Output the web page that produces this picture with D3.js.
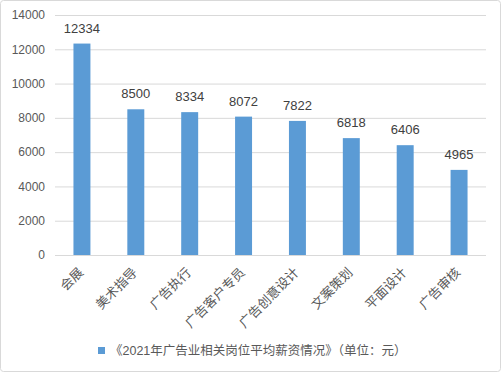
<!DOCTYPE html>
<html>
<head>
<meta charset="utf-8">
<script src="https://cdn.jsdelivr.net/npm/d3@7"></script>
<style>
  html, body { margin: 0; padding: 0; background: #fff; }
  svg { display: block; }
  text { font-family: "Liberation Sans", "Noto Sans CJK SC", sans-serif; }
</style>
</head>
<body>
<script>
const width = 501;
const height = 372;

const categories = ['会展', '美术指导', '广告执行', '广告客户专员', '广告创意设计', '文案策划', '平面设计', '广告审核'];
const salaries = [12334, 8500, 8334, 8072, 7822, 6818, 6406, 4965];
const yTicks = [0, 2000, 4000, 6000, 8000, 10000, 12000, 14000];
const seriesName = '《2021年广告业相关岗位平均薪资情况》（单位：元）';

const margin = {top: 15, right: 15, bottom: 117, left: 55};

const svg = d3.select("body")
    .append("svg")
    .attr("width", width)
    .attr("height", height);

// outer frame
svg.append("rect")
    .attr("x", 0.5).attr("y", 0.5)
    .attr("width", width - 1).attr("height", height - 1)
    .attr("rx", 3)
    .style("fill", "#fff")
    .style("stroke", "#d9d9d9");

const x = d3.scaleBand()
    .domain(categories)
    .range([margin.left, width - margin.right])
    .paddingInner(0.685)
    .paddingOuter(0.3425);

const y = d3.scaleLinear()
    .domain([0, 14000])
    .range([height - margin.bottom, margin.top]);

// gridlines
svg.append("g")
    .selectAll("line")
    .data(yTicks)
    .enter()
    .append("line")
    .attr("x1", margin.left)
    .attr("x2", width - margin.right)
    .attr("y1", d => y(d) + 0.5)
    .attr("y2", d => y(d) + 0.5)
    .style("stroke", "#d9d9d9")
    .style("stroke-width", 1);

// y axis labels
const yAxis = d3.axisLeft(y)
    .tickValues(yTicks)
    .tickSize(0)
    .tickPadding(10)
    .tickFormat(d3.format("d"));

svg.append("g")
    .attr("transform", `translate(${margin.left},0)`)
    .call(yAxis)
    .call(g => g.select(".domain").remove())
    .selectAll("text")
    .style("font-size", "12px")
    .style("fill", "#595959");

// bars
svg.append("g")
    .selectAll("rect")
    .data(salaries)
    .enter()
    .append("rect")
    .attr("x", (d, i) => x(categories[i]))
    .attr("y", d => y(d))
    .attr("width", x.bandwidth())
    .attr("height", d => y(0) - y(d))
    .style("fill", "#5b9bd5");

// value labels
svg.append("g")
    .selectAll("text")
    .data(salaries)
    .enter()
    .append("text")
    .attr("x", (d, i) => x(categories[i]) + x.bandwidth() / 2)
    .attr("y", d => y(d) - 11)
    .attr("text-anchor", "middle")
    .style("font-size", "13px")
    .style("fill", "#404040")
    .text(d => d);

// x axis labels, rotated
const xAxis = d3.axisBottom(x).tickSize(0).tickPadding(0);
svg.append("g")
    .attr("transform", `translate(0,${y(0)})`)
    .call(xAxis)
    .call(g => g.select(".domain").remove())
    .selectAll("text")
    .attr("transform", "translate(-1,15) rotate(-45)")
    .attr("dy", "0.35em")
    .attr("text-anchor", "end")
    .style("font-size", "13px")
    .style("fill", "#595959");

// legend
const legend = svg.append("g");
legend.append("rect")
    .attr("x", 98).attr("y", 347)
    .attr("width", 7).attr("height", 7)
    .style("fill", "#5b9bd5");
legend.append("text")
    .attr("x", 110).attr("y", 351)
    .attr("dy", "0.35em")
    .style("font-size", "12.5px")
    .style("fill", "#595959")
    .text(seriesName);
</script>
</body>
</html>
